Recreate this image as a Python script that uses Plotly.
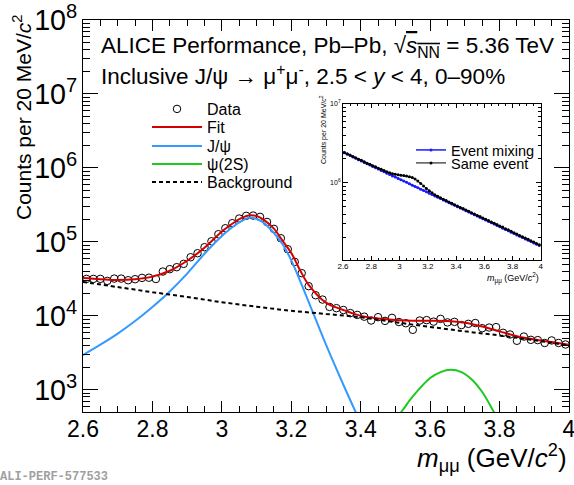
import plotly.graph_objects as go

# ---------------- main panel data ----------------
data_x = [2.61, 2.63, 2.65, 2.67, 2.69, 2.71, 2.73, 2.75, 2.77, 2.79,
          2.81, 2.83, 2.85, 2.87, 2.89, 2.91, 2.93, 2.95, 2.97, 2.99,
          3.01, 3.03, 3.05, 3.07, 3.09, 3.11, 3.13, 3.15, 3.17, 3.19,
          3.21, 3.23, 3.25, 3.27, 3.29, 3.31, 3.33, 3.35, 3.37, 3.39,
          3.41, 3.43, 3.45, 3.47, 3.49, 3.51, 3.53, 3.55, 3.57, 3.59,
          3.61, 3.63, 3.65, 3.67, 3.69, 3.71, 3.73, 3.75, 3.77, 3.79,
          3.81, 3.83, 3.85, 3.87, 3.89, 3.91, 3.93, 3.95, 3.97, 3.99]
data_y = [3.16e4, 3.16e4, 3.16e4, 2.97e4, 3.19e4, 3.19e4, 3.03e4, 3.13e4, 3.26e4, 3.28e4,
          3.15e4, 3.97e4, 4.28e4, 4.55e4, 5.05e4, 6.20e4, 7.03e4, 8.48e4, 1.02e5, 1.27e5,
          1.53e5, 1.79e5, 2.07e5, 2.25e5, 2.27e5, 2.18e5, 1.86e5, 1.50e5, 1.12e5, 7.96e4,
          5.37e4, 3.78e4, 2.52e4, 1.90e4, 1.66e4, 1.32e4, 1.27e4, 1.20e4, 1.09e4, 1.03e4,
          9.75e3, 8.65e3, 9.60e3, 8.55e3, 9.40e3, 8.25e3, 7.95e3, 6.47e3, 8.65e3, 8.75e3,
          8.35e3, 9.10e3, 8.15e3, 8.30e3, 7.50e3, 7.80e3, 8.00e3, 6.81e3, 6.95e3, 7.05e3,
          5.90e3, 5.60e3, 4.60e3, 5.25e3, 4.74e3, 4.70e3, 4.30e3, 4.65e3, 4.30e3, 4.10e3]

fit_x = [2.60, 2.65, 2.70, 2.75, 2.80, 2.85, 2.90, 2.95, 3.00, 3.03, 3.06, 3.08,
         3.10, 3.12, 3.15, 3.175, 3.20, 3.225, 3.25, 3.30, 3.35, 3.40, 3.45, 3.50,
         3.55, 3.60, 3.65, 3.70, 3.75, 3.80, 3.85, 3.90, 3.95, 4.00]
fit_y = [3.24e4, 3.13e4, 3.05e4, 3.13e4, 3.39e4, 4.07e4, 5.56e4, 8.32e4, 1.38e5, 1.76e5, 2.14e5, 2.29e5,
         2.24e5, 2.00e5, 1.51e5, 1.03e5, 7.08e4, 4.17e4, 2.63e4, 1.51e4, 1.20e4, 1.00e4, 9.23e3, 8.81e3,
         8.61e3, 8.61e3, 8.51e3, 8.04e3, 7.16e3, 6.17e3, 5.31e3, 4.79e3, 4.42e3, 4.07e3]

jpsi_x = [2.60, 2.65, 2.70, 2.75, 2.80, 2.85, 2.90, 2.95, 3.00, 3.03, 3.06, 3.08,
          3.10, 3.12, 3.15, 3.175, 3.20, 3.225, 3.25, 3.30, 3.35, 3.40]
jpsi_y = [2.95e3, 4.07e3, 5.75e3, 8.50e3, 1.32e4, 2.14e4, 3.72e4, 6.92e4, 1.20e5, 1.58e5, 1.95e5, 2.14e5,
          2.04e5, 1.82e5, 1.32e5, 9.30e4, 5.62e4, 3.00e4, 1.55e4, 4.07e3, 1.17e3, 355]

psi2s_x = [3.45, 3.50, 3.52, 3.55, 3.60, 3.63, 3.66, 3.69, 3.72, 3.75, 3.78, 3.80, 3.85]
psi2s_y = [200, 398, 525, 813, 1445, 1738, 1862, 1738, 1380, 933, 537, 355, 100]

bkg_x = [2.6, 2.7, 2.8, 2.9, 3.0, 3.1, 3.2, 3.3, 3.4, 3.5, 3.6, 3.7, 3.8, 3.9, 4.0]
bkg_y = [2.88e4, 2.45e4, 2.09e4, 1.80e4, 1.53e4, 1.33e4, 1.17e4, 1.06e4, 9.55e3, 8.22e3,
         7.08e3, 6.17e3, 5.43e3, 4.68e3, 3.98e3]

# ---------------- inset data ----------------
inset_x = data_x
mixing_y = [2.39e6, 2.30e6, 2.21e6, 2.12e6, 2.04e6, 1.96e6, 1.89e6, 1.81e6, 1.74e6, 1.68e6,
            1.61e6, 1.55e6, 1.49e6, 1.43e6, 1.38e6, 1.32e6, 1.27e6, 1.22e6, 1.18e6, 1.13e6,
            1.09e6, 1.05e6, 1.01e6, 9.68e5, 9.31e5, 8.95e5, 8.60e5, 8.27e5, 7.95e5, 7.65e5,
            7.35e5, 7.07e5, 6.80e5, 6.53e5, 6.28e5, 6.04e5, 5.81e5, 5.58e5, 5.37e5, 5.16e5,
            4.96e5, 4.77e5, 4.59e5, 4.41e5, 4.24e5, 4.08e5, 3.92e5, 3.77e5, 3.62e5, 3.48e5,
            3.35e5, 3.22e5, 3.10e5, 2.98e5, 2.86e5, 2.75e5, 2.65e5, 2.54e5, 2.45e5, 2.35e5,
            2.26e5, 2.17e5, 2.09e5, 2.01e5, 1.93e5, 1.86e5, 1.79e5, 1.72e5, 1.65e5, 1.59e5]
same_y = [2.42e6, 2.33e6, 2.24e6, 2.15e6, 2.07e6, 1.99e6, 1.92e6, 1.84e6, 1.77e6, 1.71e6,
          1.64e6, 1.59e6, 1.53e6, 1.48e6, 1.43e6, 1.38e6, 1.34e6, 1.30e6, 1.28e6, 1.26e6,
          1.24e6, 1.23e6, 1.22e6, 1.19e6, 1.16e6, 1.11e6, 1.05e6, 9.77e5, 9.07e5, 8.45e5,
          7.89e5, 7.45e5, 7.05e5, 6.72e5, 6.45e5, 6.17e5, 5.94e5, 5.70e5, 5.48e5, 5.26e5,
          5.06e5, 4.86e5, 4.69e5, 4.50e5, 4.33e5, 4.16e5, 4.00e5, 3.83e5, 3.71e5, 3.57e5,
          3.43e5, 3.31e5, 3.18e5, 3.06e5, 2.94e5, 2.83e5, 2.73e5, 2.61e5, 2.52e5, 2.42e5,
          2.32e5, 2.23e5, 2.14e5, 2.06e5, 1.98e5, 1.91e5, 1.83e5, 1.77e5, 1.69e5, 1.63e5]

FONT = "Liberation Sans, Arial, Helvetica, sans-serif"

fig = go.Figure()
fig.add_trace(go.Scatter(x=data_x, y=data_y, mode="markers", name="Data", legend="legend",
                         marker=dict(symbol="circle-open", size=7.5, color="black",
                                     line=dict(width=1, color="black"))))
fig.add_trace(go.Scatter(x=fit_x, y=fit_y, mode="lines", name="Fit", legend="legend3",
                         line=dict(color="#d40000", width=2, shape="spline")))
fig.add_trace(go.Scatter(x=jpsi_x, y=jpsi_y, mode="lines", name="J/ψ", legend="legend4",
                         line=dict(color="#3399ff", width=2, shape="spline")))
fig.add_trace(go.Scatter(x=psi2s_x, y=psi2s_y, mode="lines", name="ψ(2S)", legend="legend5",
                         line=dict(color="#1fc81f", width=2, shape="spline")))
fig.add_trace(go.Scatter(x=bkg_x, y=bkg_y, mode="lines", name="Background", legend="legend6",
                         line=dict(color="black", width=2, dash="4px,3px", shape="spline")))

fig.add_trace(go.Scatter(x=inset_x, y=mixing_y, mode="lines+markers", name="Event mixing",
                         xaxis="x2", yaxis="y2", legend="legend2",
                         line=dict(color="#1a1aff", width=1.5),
                         marker=dict(size=3, color="#1a1aff")))
fig.add_trace(go.Scatter(x=inset_x, y=same_y, mode="lines+markers", name="Same event",
                         xaxis="x2", yaxis="y2", legend="legend7",
                         line=dict(color="black", width=1),
                         marker=dict(size=3, color="black")))


def px_x(p):
    return (p - 83) / 486.0


def px_y(p):
    return (412 - p) / 392.0


def leg(x, y, size, itemwidth=30):
    return dict(x=x, y=y, xanchor="left", yanchor="middle", bgcolor="rgba(0,0,0,0)",
                font=dict(size=size, family=FONT, color="black"), tracegroupgap=0,
                itemwidth=itemwidth, borderwidth=0)


fig.update_layout(
    template="none",
    width=574, height=485,
    margin=dict(l=83, r=5, t=20, b=73, autoexpand=False),
    paper_bgcolor="white", plot_bgcolor="white",
    font=dict(family=FONT, color="black"),
    xaxis=dict(range=[2.6, 4], dtick=0.2, tick0=2.6, ticks="inside", ticklen=11,
               tickwidth=1, tickcolor="black", showline=True, linecolor="black",
               linewidth=1.2, mirror="ticks", showgrid=False, zeroline=False,
               automargin=False, tickfont=dict(size=23, family=FONT),
               ticklabelstandoff=-4, ticklabeloverflow="allow",
               minor=dict(dtick=0.05, ticks="inside", ticklen=6, tickcolor="black",
                          showgrid=False)),
    yaxis=dict(type="log", range=[2.7, 8], dtick=1, exponentformat="power",
               ticks="inside", ticklen=15, tickwidth=1, tickcolor="black",
               showline=True, linecolor="black", linewidth=1.2, mirror="ticks",
               showgrid=False, zeroline=False, automargin=False,
               ticklabeloverflow="allow",
               tickfont=dict(size=23, family=FONT),
               minor=dict(dtick="D1", ticks="inside", ticklen=7, tickcolor="black",
                          showgrid=False)),
    xaxis2=dict(domain=[0.535, 0.942], anchor="y2", range=[2.6, 4], dtick=0.2, tick0=2.6,
                ticks="inside", ticklen=4, tickcolor="black", showline=True,
                linecolor="black", linewidth=1, mirror="ticks", showgrid=False,
                zeroline=False, automargin=False, tickfont=dict(size=8, family=FONT),
                ticklabeloverflow="allow", ticklabelstandoff=-2,
                minor=dict(dtick=0.05, ticks="inside", ticklen=2, tickcolor="black",
                           showgrid=False)),
    yaxis2=dict(domain=[0.388, 0.786], anchor="x2", type="log", range=[5.02, 7],
                tickmode="array", tickvals=[1e6, 1e7],
                ticktext=["10<sup>6</sup>", "10<sup>7</sup>"],
                ticks="inside", ticklen=5, tickcolor="black", showline=True,
                linecolor="black", linewidth=1, mirror="ticks", showgrid=False,
                zeroline=False, automargin=False, tickfont=dict(size=7, family=FONT),
                ticklabeloverflow="allow",
                minor=dict(dtick="D1", ticks="inside", ticklen=3, tickcolor="black",
                           showgrid=False)),
    showlegend=True,
    legend=leg(px_x(147), px_y(109), 16, 50),
    legend3=leg(px_x(147), px_y(127), 16, 50),
    legend4=leg(px_x(147), px_y(146), 16, 50),
    legend5=leg(px_x(147), px_y(164), 16, 50),
    legend6=leg(px_x(147), px_y(182), 16, 50),
    legend2=leg(px_x(411), px_y(150), 14.5),
    legend7=leg(px_x(411), px_y(163), 14.5),
)

ann = [
    dict(text="ALICE Performance, Pb–Pb, √<span style='text-decoration:overline'><i>s</i><sub>NN</sub></span> = 5.36 TeV",
         x=px_x(99), y=px_y(47), xanchor="left", yanchor="middle", font=dict(size=22.5)),
    dict(text="Inclusive J/ψ → μ<sup>+</sup>μ<sup>-</sup>, 2.5 &lt; <i>y</i> &lt; 4, 0–90%",
         x=px_x(99), y=px_y(75), xanchor="left", yanchor="middle", font=dict(size=22.5)),
    dict(text="<i>m</i><sub>μμ</sub> (GeV/<i>c</i><sup>2</sup>)",
         x=px_x(569), y=px_y(458), xanchor="right", yanchor="middle", font=dict(size=26)),
    dict(text="Counts per 20 MeV/<i>c</i><sup>2</sup>", textangle=-90,
         x=px_x(22), y=px_y(118), xanchor="center", yanchor="middle", font=dict(size=21)),
    dict(text="Counts per 20 MeV/<i>c</i><sup>2</sup>", textangle=-90,
         x=px_x(323), y=px_y(130), xanchor="center", yanchor="middle", font=dict(size=7)),
    dict(text="<i>m</i><sub>μμ</sub> (GeV/<i>c</i><sup>2</sup>)",
         x=px_x(541), y=px_y(278), xanchor="right", yanchor="middle", font=dict(size=9)),
    dict(text="<b>ALI-PERF-577533</b>", x=px_x(-2), y=px_y(477), xanchor="left", yanchor="middle",
         font=dict(size=12, family="Liberation Mono, Courier New, monospace", color="#a0a0a0")),
]
for a in ann:
    a.update(xref="paper", yref="paper", showarrow=False)
    a["font"].setdefault("family", FONT)
    a["font"].setdefault("color", "black")
    fig.add_annotation(**a)

fig.write_html("out.html", config={"displayModeBar": False},
               post_script="document.body.style.margin='0px';")
